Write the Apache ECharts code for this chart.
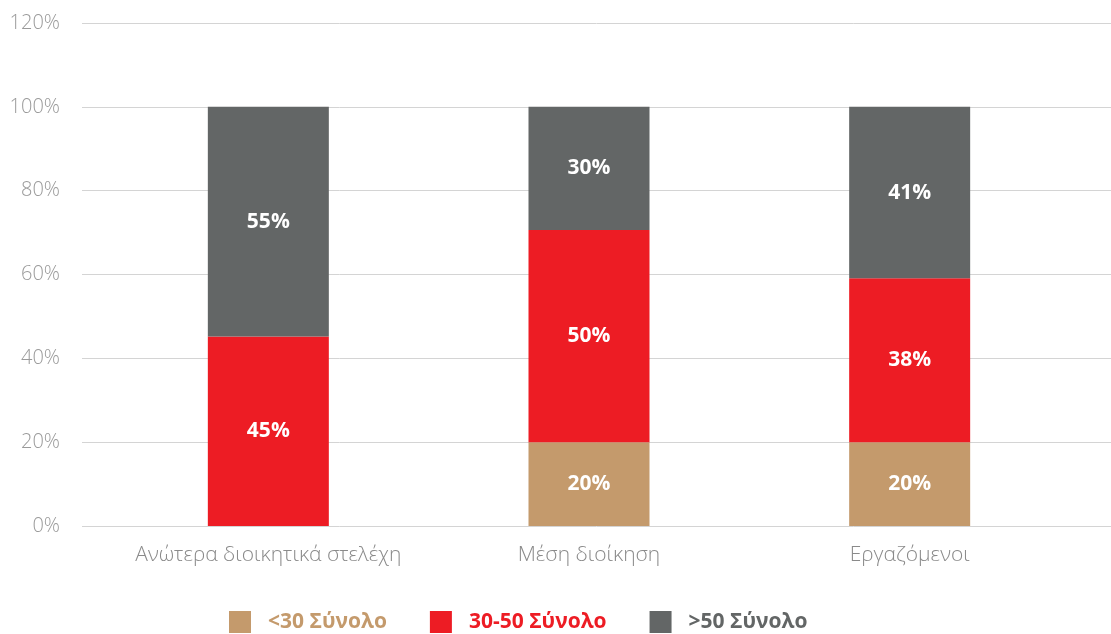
<!DOCTYPE html>
<html>
<head>
<meta charset="utf-8">
<script src="https://cdn.jsdelivr.net/npm/echarts@6/dist/echarts.min.js"></script>
<style>
html,body{margin:0;padding:0;background:#fff;}
#c{width:1111px;height:634px;}
</style>
</head>
<body>
<div id="c"></div>
<script>
const categories = ['Ανώτερα διοικητικά στελέχη', 'Μέση διοίκηση', 'Εργαζόμενοι'];
const seriesNames = ['<30 Σύνολο', '30-50 Σύνολο', '>50 Σύνολο'];
const under30 = [0, 20, 20];
const from30to50 = [45.2, 50.6, 39.1];
const over50 = [54.8, 29.4, 40.9];
const under30Labels = ['', '20%', '20%'];
const from30to50Labels = ['45%', '50%', '38%'];
const over50Labels = ['55%', '30%', '41%'];
const yTicks = [0, 20, 40, 60, 80, 100, 120];

const colors = ['#C49A6C', '#ED1C24', '#636666'];
const FONT = '"Open Sans", Lato, sans-serif';

const chart = echarts.init(document.getElementById('c'));

function mkSeries(i, values, labels) {
  return {
    name: seriesNames[i],
    type: 'bar',
    stack: 'total',
    xAxisIndex: 1,
    yAxisIndex: 1,
    barWidth: 121,
    data: values,
    itemStyle: { color: colors[i] },
    label: {
      show: true,
      position: 'inside',
      color: '#fff',
      fontFamily: FONT,
      fontWeight: 'bold',
      fontSize: 21,
      formatter: p => labels[p.dataIndex]
    }
  };
}

chart.setOption({
  animation: false,
  grid: [
    { left: 82, right: 0, top: 23, bottom: 108 },
    { left: 108, right: 41, top: 23, bottom: 108 }
  ],
  xAxis: [
    { type: 'value', gridIndex: 0, min: 0, max: 1, show: false },
    {
      type: 'category', gridIndex: 1, data: categories,
      axisLine: { show: false }, axisTick: { show: false },
      axisLabel: { interval: 0, hideOverlap: false, color: '#8a8a8a', fontSize: 21, fontFamily: FONT, fontWeight: 300, margin: 19 }
    }
  ],
  yAxis: [
    {
      type: 'value', gridIndex: 0, min: yTicks[0], max: yTicks[yTicks.length - 1], interval: 20,
      axisLine: { show: false }, axisTick: { show: false },
      splitLine: { lineStyle: { color: '#d4d4d4', width: 1 } },
      axisLabel: { formatter: v => v + '%', color: '#9a9a9a', fontSize: 20, fontFamily: FONT, fontWeight: 300, margin: 22 }
    },
    {
      type: 'value', gridIndex: 1, min: yTicks[0], max: yTicks[yTicks.length - 1], interval: 20,
      show: false, splitLine: { show: false }
    }
  ],
  legend: {
    left: 229, top: 611, padding: 0,
    itemWidth: 22, itemHeight: 22, itemGap: 43,
    icon: 'rect',
    data: seriesNames.map((n, i) => ({
      name: n,
      textStyle: { color: colors[i], fontWeight: 'bold', fontSize: 21, fontFamily: FONT, padding: [0, 0, 0, 12] }
    })),
    selectedMode: false
  },
  series: [
    mkSeries(0, under30, under30Labels),
    mkSeries(1, from30to50, from30to50Labels),
    mkSeries(2, over50, over50Labels)
  ]
});
</script>
</body>
</html>
